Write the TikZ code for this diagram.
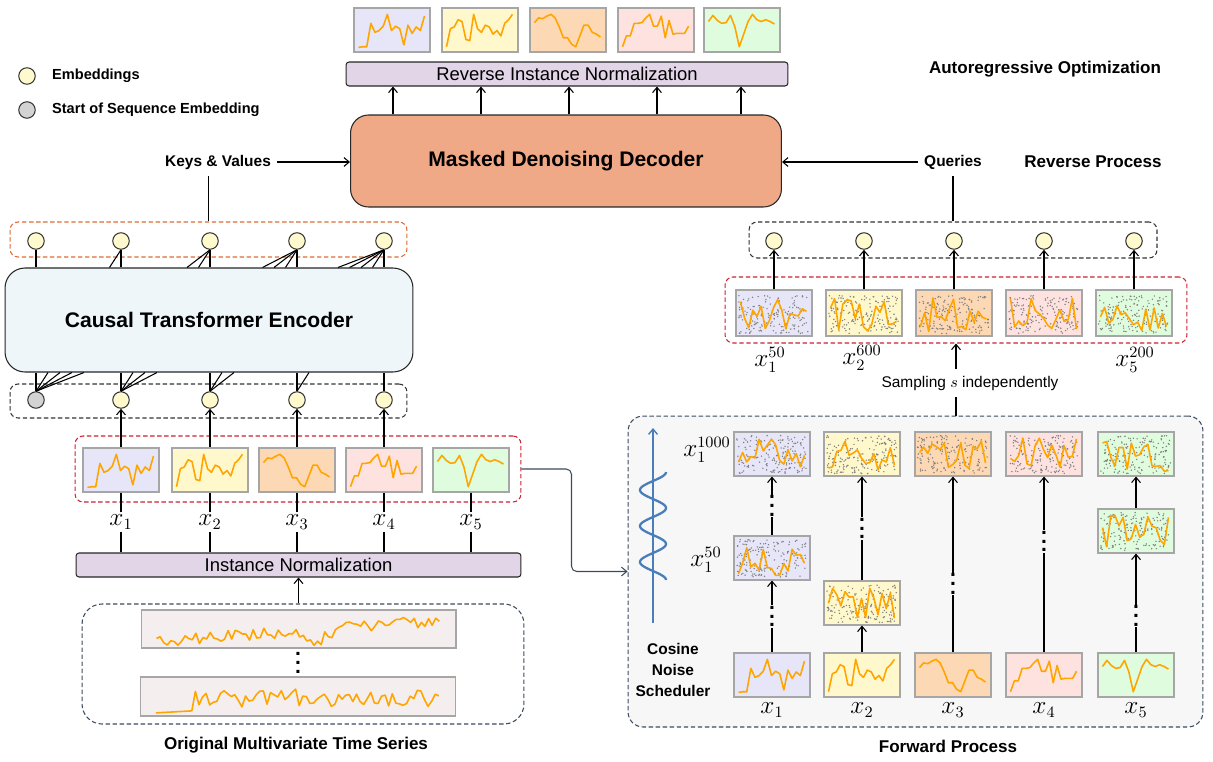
\documentclass[tikz,border=0pt]{standalone}
\usepackage{fontspec}
\setmainfont{Liberation Sans}
\usetikzlibrary{arrows.meta,positioning,calc}

\definecolor{embfill}{HTML}{FFFACD}
\definecolor{sosfill}{HTML}{D3D3D3}
\definecolor{encfill}{HTML}{EEF6FA}
\definecolor{decfill}{HTML}{F0A986}
\definecolor{barfill}{HTML}{E1D5E7}
\definecolor{pA}{HTML}{E6E6F8}
\definecolor{pB}{HTML}{FFF8CC}
\definecolor{pC}{HTML}{FDD8B4}
\definecolor{pD}{HTML}{FDE2E0}
\definecolor{pE}{HTML}{DFFCDF}
\definecolor{tsorange}{HTML}{FFA500}
\definecolor{tsfill}{HTML}{F4EEEE}
\definecolor{fwdfill}{HTML}{F7F7F7}
\definecolor{slate}{HTML}{3B4B5E}
\definecolor{redbox}{HTML}{CC2233}
\definecolor{orangebox}{HTML}{DD6A35}
\definecolor{waveblue}{HTML}{4A7EBB}

% one series per variable, values between 0 (bottom) and 1 (top)
\def\serpA{{0.03,0.05,0.05,0.7,0.45,0.5,0.62,0.95,0.5,0.62,0.55,0.1,0.65,0.42,0.6,0.5,0.9}}
\def\serpB{{0.05,0.55,0.6,0.8,0.75,0.25,0.22,0.95,0.55,0.45,0.65,0.6,0.4,0.5,0.35,0.7,0.8,0.95}}
\def\serpC{{0.72,0.85,0.83,0.9,0.95,0.85,0.6,0.3,0.3,0.12,0.05,0.35,0.65,0.65,0.45,0.4,0.32}}
\def\serpD{{0.05,0.35,0.35,0.7,0.7,0.72,0.85,0.95,0.62,0.62,0.9,0.3,0.78,0.4,0.42,0.42,0.42,0.62}}
\def\serpE{{0.75,0.92,0.78,0.7,0.72,0.92,0.6,0.05,0.4,0.75,0.95,0.8,0.75,0.8,0.75,0.68}}

\newcommand\vdts{\vbox{\baselineskip5pt\lineskiplimit0pt\hbox{.}\hbox{.}\hbox{.}}}

% clean series inside a patch
\newcommand\tsline[2]{%
  \expandafter\let\expandafter\tsdata\csname ser#2\endcsname
  \pgfmathtruncatemacro\tsn{dim(\tsdata)-1}%
  \begin{scope}[shift={(#1.south west)}]
    \draw[tsline] plot[variable=\t,samples at={0,...,\tsn}] ({5+66*\t/\tsn},{-4-36*\tsdata[int(\t)]});
  \end{scope}}

% noisy patch: gray dots and a jagged series
\newcommand\noisybox[2]{%
  \begin{scope}[shift={(#1.south west)}]
    \pgfmathsetseed{#2}
    \foreach \k in {1,...,170}
      \fill[noisedot] ({3+70*rnd},{-3-38*rnd}) circle (0.45pt);
    \draw[tsline] plot[variable=\t,samples=17,domain=0:1] ({5+66*\t},{-22+17*rand});
  \end{scope}}

\tikzset{
  embnode/.style={circle,draw=black!80,fill=embfill,minimum size=0.33cm,inner sep=0},
  patchbox/.style={draw=black!35,minimum width=1.52cm,minimum height=0.88cm,inner sep=0},
  dashbox/.style={draw,dash pattern=on 2.5pt off 1.5pt,rounded corners=0.16cm,inner sep=0},
  normbar/.style={draw=black!85,fill=barfill,rounded corners=0.06cm,minimum height=0.48cm,inner sep=0,font=\fontsize{10.5}{12}\selectfont},
  bigbox/.style={draw=black!85,font=\bfseries\fontsize{12}{14}\selectfont},
  titlelbl/.style={font=\bfseries\fontsize{9.7}{12}\selectfont},
  keylbl/.style={font=\bfseries\fontsize{8.8}{10}\selectfont},
  legendlbl/.style={font=\bfseries\fontsize{8.3}{10}\selectfont,anchor=west},
  xlbl/.style={font=\fontsize{13.5}{15}\selectfont,inner sep=1pt},
  gapdots/.style={fill=fwdfill,inner sep=0.5pt,font=\bfseries\fontsize{12}{12}\selectfont},
  tsline/.style={draw=tsorange,line width=0.9pt,line join=round},
  noisedot/.style={black!50},
  linkline/.style={draw=slate,rounded corners=3pt}
}

\begin{document}
\begin{tikzpicture}[x=0.02cm,y=-0.02cm,line width=0.6pt,>={Straight Barb[length=3pt,width=5pt]}]
\useasboundingbox (0,0) rectangle (1213,761);

% legend
\node[embnode] (lg1) at (27,76) {};
\node[legendlbl,right=0.2cm of lg1] (lgt1) {Embeddings};
\node[embnode,fill=sosfill] (lg2) at (27,110) {};
\node[legendlbl,right=0.2cm of lg2] (lgt2) {Start of Sequence Embedding};

% decoder
\foreach \i/\px/\c in {1/392/pA,2/480/pB,3/568/pC,4/656/pD,5/742/pE}{
  \node[patchbox,fill=\c] (tt\i) at (\px,30) {};
  \tsline{tt\i}{\c}
}
\node[normbar,minimum width=8.84cm] (rin) at (567,74) {Reverse Instance Normalization};
\node[bigbox,fill=decfill,rounded corners=0.36cm,minimum width=8.62cm,minimum height=1.84cm] (dec) at (566,161) {Masked Denoising Decoder};
\foreach \px in {393,481,569,657,741}
  \draw[->] (\px,0 |- dec.north) -- (\px,0 |- rin.south);
\node[keylbl] (kv) at (218,162) {Keys \& Values};
\node[keylbl] (qr) at (953,162) {Queries};
\draw[->] (kv.east) -- (kv.east -| dec.west);
\draw[->] (qr.west) -- (qr.west -| dec.east);
\node[titlelbl] (aro) at (1045,69) {Autoregressive Optimization};
\node[titlelbl] (rvp) at (1093,162) {Reverse Process};

% encoder
\node[dashbox,draw=orangebox,minimum width=7.94cm,minimum height=0.7cm] (eo) at (208.5,239.5) {};
\node[dashbox,draw=black!80,minimum width=7.94cm,minimum height=0.68cm] (ei) at (208.5,401) {};
\node[bigbox,fill=encfill,rounded corners=0.4cm,minimum width=8.16cm,minimum height=2.08cm] (enc) at (209,320) {Causal Transformer Encoder};
\draw (eo.north) -- (eo.north |- kv.south);
\foreach \i/\px in {1/36,2/121,3/210,4/297,5/384}
  \node[embnode] (et\i) at (\px,241) {};
\node[embnode,fill=sosfill] (eb1) at (36,400) {};
\foreach \i/\px in {2/121,3/210,4/297,5/384}
  \node[embnode] (eb\i) at (\px,400) {};
\foreach \i in {1,...,5}
  \foreach \k in {1,...,\i}
    \draw (et\i.south) -- ($(et\i.south |- enc.north)+({-11.5*(\k-1)},0)$);
\foreach \i in {1,...,5}
  \foreach \k in {\i,...,5}
    \draw (eb\i.north) -- ($(eb\i.north |- enc.south)+({12*(\k-\i)},0)$);

% patches of the input
\node[dashbox,draw=redbox,minimum width=8.92cm,minimum height=1.32cm] (lpb) at (298,469) {};
\node[normbar,minimum width=8.9cm] (inb) at (298.5,565) {Instance Normalization};
\foreach \i/\px in {1/121,2/210,3/297,4/384,5/471}{
  \node[xlbl] (lx\i) at (\px,522) {$x_\i$};
  \draw (lx\i.south |- inb.north) -- (lx\i.south);
}
\foreach \i/\j in {1/2,2/3,3/4,4/5}
  \draw[->] (lx\i.north) -- (eb\j.south);
\draw (lx5.north) -- (lx5.north |- lpb.center);
\foreach \i/\px/\c in {1/121/pA,2/210/pB,3/297/pC,4/384/pD,5/471/pE}{
  \node[patchbox,fill=\c] (lp\i) at (\px,470) {};
  \tsline{lp\i}{\c}
}

% original series
\node[dashbox,draw=slate,rounded corners=0.4cm,minimum width=8.84cm,minimum height=2.4cm] (ots) at (303,664) {};
\node[patchbox,fill=tsfill,minimum width=6.3cm,minimum height=0.76cm] (s1) at (298.5,629) {};
\node[patchbox,fill=tsfill,minimum width=6.3cm,minimum height=0.78cm] (s2) at (298,696.5) {};
\begin{scope}[shift={(s1.south west)}]
  \pgfmathsetseed{3}
  \draw[tsline] plot[variable=\t,domain=0:1,samples=80] ({16+283*\t},{-4-30*(0.12+0.68*\t+0.2*rand-0.5*max(0,1-abs(\t-0.56)*12))});
\end{scope}
\begin{scope}[shift={(s2.south west)}]
  \pgfmathsetseed{8}
  \draw[tsline] plot[variable=\t,domain=0:1,samples=80] ({16+283*\t},{-3-32*((\t<0.13)*(0.02+0.5*\t)+(\t>=0.13)*(0.5+0.3*rand))});
\end{scope}
\node[font=\bfseries\fontsize{12}{12}\selectfont] (sdots) at (298,663) {\vdts};
\draw[->] (ots.north -| inb.south) -- (inb.south);
\node[titlelbl] (otsl) at (296,745) {Original Multivariate Time Series};

% forward process
\node[dashbox,draw=slate,fill=fwdfill,rounded corners=0.3cm,minimum width=11.5cm,minimum height=6.22cm] (fwd) at (915.5,571.5) {};
\node[titlelbl] (fwdl) at (948,746) {Forward Process};
\draw[linkline,->] (lpb.east) -- ++(50,0) |- (fwd.west);
\draw[->,waveblue,line width=0.8pt] (653,623) -- (653,428);
\draw[waveblue,line width=1.3pt] plot[variable=\t,domain=0:3,samples=120] ({653+13*cos(360*\t)},{472+36*\t});
\node[keylbl,align=center] (cns) at (673,670) {Cosine\\[2pt]Noise\\[2pt]Scheduler};
\foreach \i/\px/\c/\s in {1/772/pA/21,2/862/pB/22,3/953/pC/23,4/1044/pD/24,5/1136/pE/25}{
  \node[patchbox,fill=\c] (fb\i) at (\px,675) {};
  \tsline{fb\i}{\c}
  \node[xlbl] (fx\i) at (\px,710) {$x_\i$};
  \node[patchbox,fill=\c] (ft\i) at (\px,454) {};
  \noisybox{ft\i}{\s}
}
\node[patchbox,fill=pA] (fm1) at (772,558) {};
\noisybox{fm1}{31}
\node[patchbox,fill=pB] (fm2) at (862,603) {};
\noisybox{fm2}{32}
\node[patchbox,fill=pE] (fm5) at (1136,531) {};
\noisybox{fm5}{35}
\node[xlbl] (xk1) at (707,450) {$x_1^{1000}$};
\node[xlbl] (xk2) at (706,560) {$x_1^{50}$};
\draw[->] (fb1.north) -- node[gapdots]{\vdts} (fm1.south);
\draw[->] (fm1.north) -- node[gapdots]{\vdts} (ft1.south);
\draw[->] (fb2.north) -- (fm2.south);
\draw[->] (fm2.north) -- node[gapdots]{\vdts} (ft2.south);
\draw[->] (fb3.north) -- node[gapdots,pos=0.39]{\vdts} (ft3.south);
\draw[->] (fb4.north) -- node[gapdots,pos=0.63]{\vdts} (ft4.south);
\draw[->] (fb5.north) -- node[gapdots,pos=0.37]{\vdts} (fm5.south);
\draw[->] (fm5.north) -- (ft5.south);

% reverse process input
\node[dashbox,draw=black!80,minimum width=8.16cm,minimum height=0.72cm] (qb) at (953,240) {};
\node[dashbox,draw=redbox,minimum width=9.24cm,minimum height=1.32cm] (rbx) at (956,310) {};
\draw (qb.north) -- (qb.north |- qr.south);
\foreach \i/\px/\c/\s in {1/774/pA/11,2/864/pB/12,3/954/pC/13,4/1044/pD/14,5/1134/pE/15}{
  \node[embnode] (er\i) at (\px,241) {};
  \node[patchbox,fill=\c,minimum height=0.92cm] (rp\i) at (\px,313) {};
  \noisybox{rp\i}{\s}
  \draw[->] (rp\i.north) -- (er\i.south);
}
\node[xlbl] (xs1) at (770,360) {$x_1^{50}$};
\node[xlbl] (xs2) at (862,358) {$x_2^{600}$};
\node[xlbl] (xs5) at (1135,360) {$x_5^{200}$};
\node[font=\fontsize{8.8}{10}\selectfont] (samp) at (970,383) {Sampling $s$ independently};
\draw[->] (samp.north -| rbx.south) -- (rbx.south);
\draw (fwd.north -| rbx.south) -- (samp.south -| rbx.south);
\end{tikzpicture}
\end{document}
